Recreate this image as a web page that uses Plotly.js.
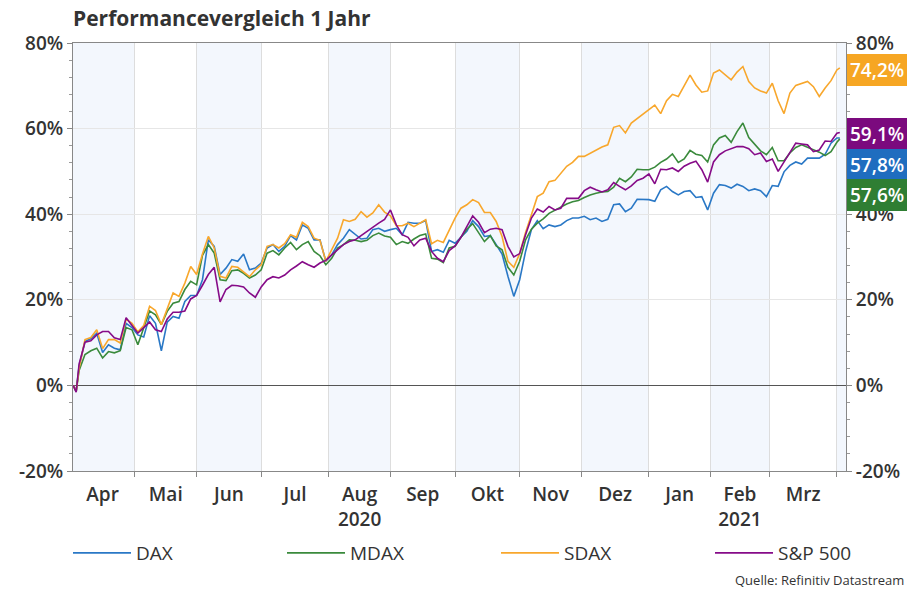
<!DOCTYPE html>
<html><head><meta charset="utf-8">
<script src="https://cdn.plot.ly/plotly-3.0.1.min.js"></script>
<style>html,body{margin:0;padding:0;background:#fff;} #chart{width:913px;height:590px;}</style>
</head><body><div id="chart"></div>
<script>
// trading-day index (0 = 1 Apr 2020), sampled points
const dayIndex = [1,2,3,5,7,9,11,13,15,17,19,21,23,25,27,29,31,33,35,37,39,41,43,45,47,49,51,53,55,57,59,61,63,65,67,69,71,73,75,77,79,81,83,85,87,89,91,93,95,97,99,101,103,105,107,109,111,113,115,117,119,121,123,125,127,129,131,133,135,137,139,141,143,145,147,149,151,153,155,157,159,161,163,165,167,169,171,173,175,177,179,181,183,185,187,189,191,193,195,197,199,201,203,205,207,209,211,213,215,217,219,221,223,225,227,229,231,233,235,237,239,241,243,245,247,249,251,253,255,257,259,261,262];

const dax = [0,-1.4,4.5,10.3,10.9,12.2,7.7,9.5,8.7,8.3,14.5,13.5,11.8,11.3,16.3,14.5,8.1,14.8,16.1,15.7,19.6,21.0,21.0,24.7,34.0,32.5,25.9,27.4,29.4,29.0,30.7,27.0,27.4,28.6,32.1,32.9,31.3,32.5,35.0,34.0,37.5,36.7,34.0,34.0,29.0,30.5,32.9,34.4,36.4,35.2,34.2,34.4,36.4,36.7,36.0,36.4,36.7,35.2,38.1,37.9,37.9,38.5,31.3,31.7,31.1,33.9,33.2,34.6,36.0,38.5,37.1,34.8,35.0,32.9,30.7,25.5,20.8,24.7,31.3,36.4,38.5,36.6,37.5,37.1,37.5,38.5,39.1,39.1,39.5,38.7,39.1,38.3,38.8,42.2,42.4,40.6,41.4,43.5,43.5,43.4,43.0,45.7,46.5,45.3,44.5,45.3,45.5,43.9,44.1,41.0,44.9,46.9,46.7,46.1,47.0,46.5,45.5,45.9,45.5,44.1,46.7,46.5,49.9,51.4,52.2,51.7,53.1,53.1,53.1,54.0,56.6,57.8,57.8];

const mdax = [0,-1.4,3.5,7.2,8.1,8.7,6.4,7.9,7.6,8.1,13.5,13.0,9.5,13.5,17.4,16.5,14.2,17.3,19.2,19.6,22.4,24.3,23.5,30.4,32.9,30.9,24.7,24.5,26.8,27.0,26.2,25.1,25.8,27.0,30.9,31.5,30.5,32.1,33.4,31.7,32.9,33.6,31.3,30.3,28.2,29.7,32.1,32.9,34.0,33.9,33.6,33.9,35.0,35.6,34.9,34.6,32.9,33.6,33.2,34.2,35.0,35.4,29.7,29.5,28.7,32.1,32.5,34.6,36.5,37.8,35.7,33.6,35.0,32.6,31.7,27.6,25.8,29.0,34.0,36.5,37.9,38.9,40.2,41.0,41.6,42.4,42.9,43.2,43.9,44.5,44.9,45.2,45.3,46.3,48.4,47.6,48.7,50.5,50.4,50.4,51.0,52.1,52.9,54.1,52.1,52.9,54.9,54.0,53.7,52.2,56.2,57.8,58.4,56.8,59.3,61.3,57.9,56.4,54.8,53.9,55.6,52.5,52.5,54.3,55.6,56.2,55.6,55.0,54.5,53.7,54.6,56.8,57.6];

const sdax = [0,-1.4,4.0,10.7,11.2,13.0,8.6,10.7,10.7,9.9,15.5,14.5,12.5,14.0,18.5,17.5,14.2,18.0,21.6,20.8,23.9,27.8,25.9,30.7,34.8,32.1,25.5,25.1,27.8,27.6,26.6,25.4,27.0,28.2,32.5,32.9,32.1,33.1,35.2,34.6,38.1,37.1,34.4,33.9,29.0,31.7,34.4,38.7,38.3,38.8,40.6,39.3,40.3,42.2,40.5,39.6,37.3,37.3,37.9,37.1,37.9,38.7,33.1,33.9,33.4,36.4,39.1,41.4,42.2,43.4,42.7,40.4,40.4,38.3,34.8,29.0,27.6,30.8,35.7,39.9,44.1,44.9,47.6,47.9,49.6,51.2,52.1,53.5,53.5,54.3,55.0,55.7,56.2,60.3,60.7,59.0,61.3,62.4,63.5,64.5,65.5,63.5,66.5,68.0,67.5,70.0,72.5,70.2,68.5,68.8,73.0,73.7,72.6,71.4,73.2,74.5,71.0,69.5,68.8,68.3,70.6,66.5,63.5,68.3,70.1,70.6,71.0,69.8,67.5,69.5,71.2,73.7,74.2];

const sp500 = [0,-1.6,5.0,10.1,10.4,11.8,12.6,12.6,11.1,10.7,15.8,14.0,12.2,13.5,14.8,13.0,12.6,15.5,17.1,17.1,17.4,20.2,21.0,23.4,25.9,27.6,19.5,22.4,23.4,23.3,23.0,21.6,20.6,23.0,24.7,25.4,25.1,25.8,27.0,27.9,28.9,28.2,27.6,28.6,29.2,30.5,31.7,32.9,33.6,34.0,35.0,36.0,37.1,37.9,38.8,41.0,37.5,35.2,34.6,32.6,34.0,34.4,31.3,29.7,28.9,31.5,32.6,34.6,37.1,39.6,38.1,35.7,36.5,36.7,36.4,32.5,30.0,30.8,35.2,39.1,41.2,40.5,41.8,41.0,41.4,43.7,43.7,43.7,45.5,46.3,45.7,45.2,45.7,47.4,46.5,45.7,46.6,47.9,48.4,49.4,47.1,50.5,50.4,50.8,50.0,51.2,51.9,52.4,50.4,47.5,52.2,53.9,54.8,55.3,55.8,55.8,55.3,53.9,54.3,52.3,52.9,50.0,52.2,54.5,56.6,56.4,56.2,54.6,55.0,57.1,57.0,58.9,59.1];

const seriesNames = ['DAX','MDAX','SDAX','S&P 500'];
const seriesColors = ['#2a78c6','#3a8a3c','#f8a72c','#860b88'];
const labelColors = ['#1f6dbf','#2f7e33','#f6a623','#7b0a7e'];
const seriesData = [dax, mdax, sdax, sp500];

// month boundaries (trading-day index) and labels
const monthStarts = [0,22,43,65,88,109,131,153,174,197,218,238,261];
const monthNames = ['Apr','Mai','Jun','Jul','Aug','Sep','Okt','Nov','Dez','Jan','Feb','Mrz'];
const yearRow = ['','','','','2020','','','','','','2021',''];
const yTicks = [-20,0,20,40,60,80];
const yTickText = ['-20%','0%','20%','40%','60%','80%'];

const xRange = [0.92, 264.1];
const yRange = [-20, 80];
const FONT = 'Source Sans Pro, Open Sans, sans-serif';

const traces = seriesData.map((d, k) => ({
  x: dayIndex, y: d, type: 'scatter', mode: 'lines', name: seriesNames[k],
  line: {color: seriesColors[k], width: 1.6}, hoverinfo: 'skip',
  legendwidth: k < seriesData.length - 1 ? 141 : 80
}));
traces.push({x: [null], y: [null], yaxis: 'y2', showlegend: false, hoverinfo: 'skip', mode: 'lines'});

const mids = monthNames.map((m, i) => (monthStarts[i] + monthStarts[i + 1]) / 2);
const tickText = monthNames.map((m, i) => yearRow[i] ? m + '<br>' + yearRow[i] : m);

const shapes = [];
for (let i = 0; i < monthStarts.length; i += 2) {
  const x0 = Math.max(monthStarts[i], xRange[0]);
  const x1 = i + 1 < monthStarts.length ? monthStarts[i + 1] : xRange[1];
  shapes.push({type: 'rect', xref: 'x', yref: 'paper', x0: x0, x1: x1, y0: 0, y1: 1,
    fillcolor: '#f3f7fd', line: {width: 0}, layer: 'below'});
}

// end-value labels, stacked to avoid overlap
const plotH = 590 - 43 - 119;
const unitsPerPx = (yRange[1] - yRange[0]) / plotH;
const minGap = 30.5 * unitsPerPx;
const order = seriesData.map((d, k) => ({k: k, v: d[d.length - 1]})).sort((a, b) => b.v - a.v);
const annotations = [];
let prev = Infinity;
order.forEach(o => {
  let pos = Math.min(o.v, prev - minGap);
  prev = pos;
  annotations.push({xref: 'paper', x: 1, xanchor: 'left', xshift: 1, yref: 'y', y: pos, yanchor: 'middle',
    yshift: -2, text: o.v.toFixed(1).replace('.', ',') + '%', showarrow: false, bgcolor: labelColors[o.k],
    borderpad: 3, borderwidth: 0, font: {family: FONT, color: '#fff', size: 19, weight: 600}, align: 'left'});
});
annotations.push({xref: 'paper', x: (906 - 73) / 773, xanchor: 'right', yref: 'paper', y: (471 - 580) / 428,
  yanchor: 'middle', text: 'Quelle: Refinitiv Datastream', showarrow: false, font: {family: FONT, size: 13, color: '#333'}});

const yCommon = {
  range: yRange, tickmode: 'array', tickvals: yTicks, ticktext: yTickText,
  ticks: 'outside', ticklen: 5, tickcolor: '#888', showline: true, linecolor: '#888', linewidth: 1,
  tickfont: {family: FONT, size: 19, weight: 600, color: '#333'},
  minor: {tickmode: 'linear', tick0: 0, dtick: 4, ticks: 'outside', ticklen: 3, tickcolor: '#999', showgrid: false},
  fixedrange: true
};

const layout = {
  width: 913, height: 590,
  margin: {l: 73, r: 67, t: 43, b: 119},
  paper_bgcolor: '#fff', plot_bgcolor: 'rgba(0,0,0,0)',
  font: {family: FONT, color: '#333', size: 18},
  title: {text: 'Performancevergleich 1 Jahr', xref: 'container', x: 73 / 913, xanchor: 'left',
    yref: 'container', y: 1 - 19 / 590, yanchor: 'middle', font: {family: FONT, size: 21, weight: 700, color: '#333'}},
  xaxis: {range: xRange, tickmode: 'array', tickvals: mids, ticktext: tickText, ticks: '', showgrid: false,
    zeroline: false, showline: true, linecolor: '#888', linewidth: 1, mirror: true,
    tickfont: {family: FONT, size: 19, weight: 600, color: '#333'}, ticklabelstandoff: 6,
    minor: {tickmode: 'array', tickvals: monthStarts, ticks: 'outside', ticklen: 5, tickcolor: '#888',
      showgrid: true, gridcolor: '#dddddd', gridwidth: 1},
    fixedrange: true},
  yaxis: Object.assign({}, yCommon, {showgrid: true, gridcolor: '#e6e6e6', zeroline: true, zerolinecolor: '#555', zerolinewidth: 1.5}),
  yaxis2: Object.assign({}, yCommon, {overlaying: 'y', side: 'right', showgrid: false, zeroline: false}),
  legend: {orientation: 'h', x: -5 / 773, xanchor: 'left', y: (471 - 553) / 428, yanchor: 'middle',
    entrywidth: 141, entrywidthmode: 'pixels', itemwidth: 58, font: {family: FONT, size: 19, color: '#333'},
    bgcolor: 'rgba(0,0,0,0)', traceorder: 'normal'},
  shapes: shapes,
  annotations: annotations,
  showlegend: true
};

Plotly.newPlot('chart', traces, layout, {displayModeBar: false, staticPlot: true});
</script></body></html>
